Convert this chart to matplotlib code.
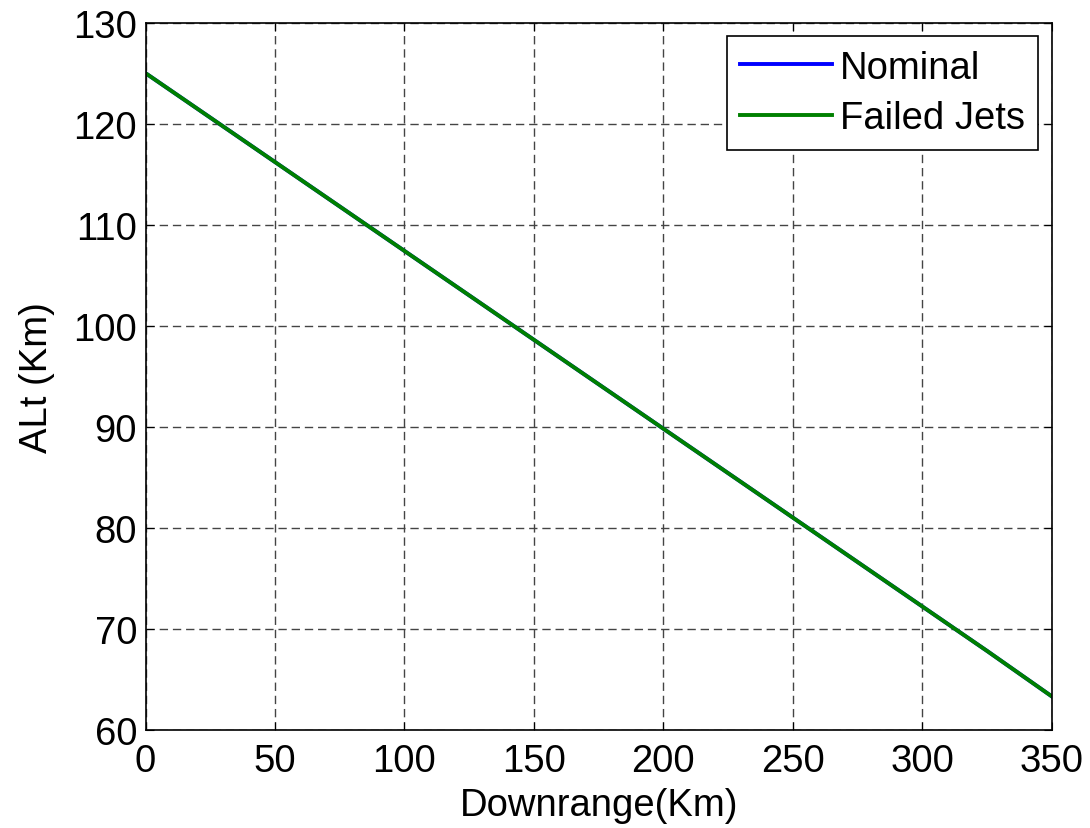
import matplotlib
matplotlib.use("Agg")
import matplotlib.pyplot as plt

plt.rcParams['font.family'] = ['Liberation Sans', 'DejaVu Sans']

downrange = [0, 25, 50, 75, 100, 125, 150, 175, 200, 225, 250, 275, 300, 325, 350]
alt_nominal = [125.0, 120.6, 116.2, 111.8, 107.4, 103.0, 98.6, 94.2, 89.8, 85.4, 81.0, 76.6, 72.2, 67.8, 63.3]
alt_failed = [125.0, 120.6, 116.2, 111.8, 107.4, 103.0, 98.6, 94.2, 89.8, 85.4, 81.0, 76.6, 72.2, 67.8, 63.3]
x_ticks = [0, 50, 100, 150, 200, 250, 300, 350]
y_ticks = [60, 70, 80, 90, 100, 110, 120, 130]

fig = plt.figure(figsize=(10.9, 8.29), dpi=100)
ax = fig.add_axes([0.1335, 0.1185, 0.8315, 0.853])

ax.plot(downrange, alt_nominal, color='#0000ff', linewidth=2.8, label="Nominal")
ax.plot(downrange, alt_failed, color='#008000', linewidth=2.8, label="Failed Jets")

ax.set_xlim(0, 350)
ax.set_ylim(60, 130)
ax.set_xticks(x_ticks)
ax.set_yticks(y_ticks)
ax.tick_params(direction='in', labelsize=27.5, length=6, top=True, right=True, pad=6)
ax.tick_params(axis='x', pad=9.5)
ax.grid(True, linestyle=(0, (6, 3.5)), color='#444444', linewidth=1)
for s in ax.spines.values():
    s.set_linewidth(1.2)

ax.set_xlabel("Downrange(Km)", fontsize=27.5, labelpad=6)
ax.set_ylabel("ALt (Km)", fontsize=27.5, labelpad=13)

leg = ax.legend(loc='upper right', fontsize=27.5, fancybox=False, framealpha=1,
                edgecolor='black', borderaxespad=0.35, handlelength=2.4,
                handletextpad=0.2, borderpad=0.36, labelspacing=0.38)
leg.get_frame().set_linewidth(1.2)

fig.savefig("out.png", dpi=100)
